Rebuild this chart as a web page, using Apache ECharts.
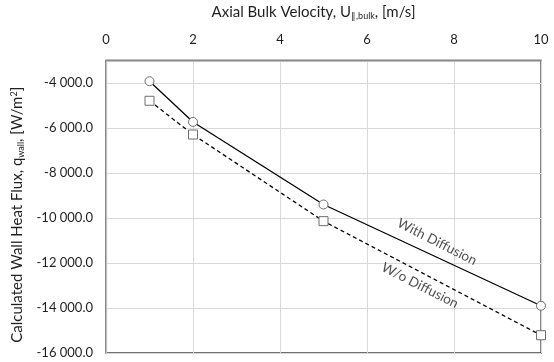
<!DOCTYPE html>
<html>
<head>
<meta charset="utf-8">
<script src="https://cdn.jsdelivr.net/npm/echarts@6/dist/echarts.min.js"></script>
<style>html,body{margin:0;padding:0;background:#fff}#c{width:554px;height:362px}</style>
</head>
<body>
<div id="c"></div>
<script>
var velocities = [1, 2, 5, 10];
var withDiffusion = [-3920, -5730, -9400, -13900];
var withoutDiffusion = [-4790, -6290, -10140, -15210];
var xTicks = [0, 2, 4, 6, 8, 10];
var seriesNames = ['With Diffusion', 'W/o Diffusion'];

var FONT = 'Lato';
var TXT = '#1f1f1f';

function fmt(v) {
  var s = Math.abs(v).toFixed(1);
  var parts = s.split('.');
  var int = parts[0].replace(/\B(?=(\d{3})+(?!\d))/g, ' ');
  return (v < 0 ? '-' : '') + int + '.' + parts[1];
}
function pairs(xs, ys) { return xs.map(function (x, i) { return [x, ys[i]]; }); }

var chart = echarts.init(document.getElementById('c'), null, {renderer: 'canvas'});
chart.setOption({
  animation: false,
  backgroundColor: '#ffffff',
  textStyle: {fontFamily: FONT},
  grid: {left: 106, right: 13, top: 59, bottom: 9, show: true, borderColor: '#404040', borderWidth: 1.3},
  xAxis: {
    type: 'value', position: 'top', min: xTicks[0], max: xTicks[xTicks.length - 1], interval: 2,
    name: 'Axial Bulk Velocity, U{sub|∥,bulk}, [m/s]',
    nameLocation: 'middle', nameGap: 40,
    nameTextStyle: {fontFamily: FONT, fontSize: 15, color: TXT, padding: [0, 20, 0, 0],
      rich: {sub: {fontFamily: FONT, fontSize: 9, color: TXT, verticalAlign: 'bottom', padding: [7, 0, 0, 0]}}},
    axisLine: {show: true, lineStyle: {color: '#8c8c8c', width: 1.3}},
    axisTick: {show: false},
    axisLabel: {fontFamily: FONT, fontSize: 13, color: TXT, margin: 14},
    splitLine: {show: true, lineStyle: {color: '#d9d9d9', width: 1}}
  },
  yAxis: {
    type: 'value', min: -16000, max: -3000, interval: 2000,
    name: 'Calculated Wall Heat Flux, q{sub|wall}, [W/m{sup|2}]',
    nameLocation: 'middle', nameGap: 80, nameRotate: 90,
    nameTextStyle: {fontFamily: FONT, fontSize: 15, color: TXT, padding: [0, 16, 0, 0],
      rich: {
        sub: {fontFamily: FONT, fontSize: 9, color: TXT, verticalAlign: 'bottom', padding: [7, 0, 0, 0]},
        sup: {fontFamily: FONT, fontSize: 9, color: TXT, verticalAlign: 'top', padding: [0, 0, 7, 0]}
      }},
    axisLine: {show: true, lineStyle: {color: '#bfbfbf', width: 1.3}},
    axisTick: {show: false},
    axisLabel: {fontFamily: FONT, fontSize: 13, color: TXT, margin: 13, showMaxLabel: false, formatter: fmt},
    splitLine: {show: true, lineStyle: {color: '#d9d9d9', width: 1}}
  },
  series: [
    {
      name: seriesNames[0], type: 'line', data: pairs(velocities, withDiffusion),
      symbol: 'circle', symbolSize: 9, showAllSymbol: true,
      lineStyle: {color: '#000', width: 1.3, type: 'solid'},
      itemStyle: {color: '#fff', borderColor: '#6e6e6e', borderWidth: 1},
      z: 3
    },
    {
      name: seriesNames[1], type: 'line', data: pairs(velocities, withoutDiffusion),
      symbol: 'rect', symbolSize: 9, showAllSymbol: true,
      lineStyle: {color: '#000', width: 1.3, type: [4, 3]},
      itemStyle: {color: '#fff', borderColor: '#6e6e6e', borderWidth: 1},
      z: 3
    },
    {
      type: 'scatter', symbolSize: 0, silent: true,
      data: [[7.61, -11060, seriesNames[0]], [7.22, -13000, seriesNames[1]]],
      label: {show: true, position: 'inside', rotate: -27, fontFamily: FONT, fontSize: 13.5, color: TXT,
        formatter: function (p) { return p.data[2]; }},
      z: 4
    }
  ]
});
</script>
</body>
</html>
